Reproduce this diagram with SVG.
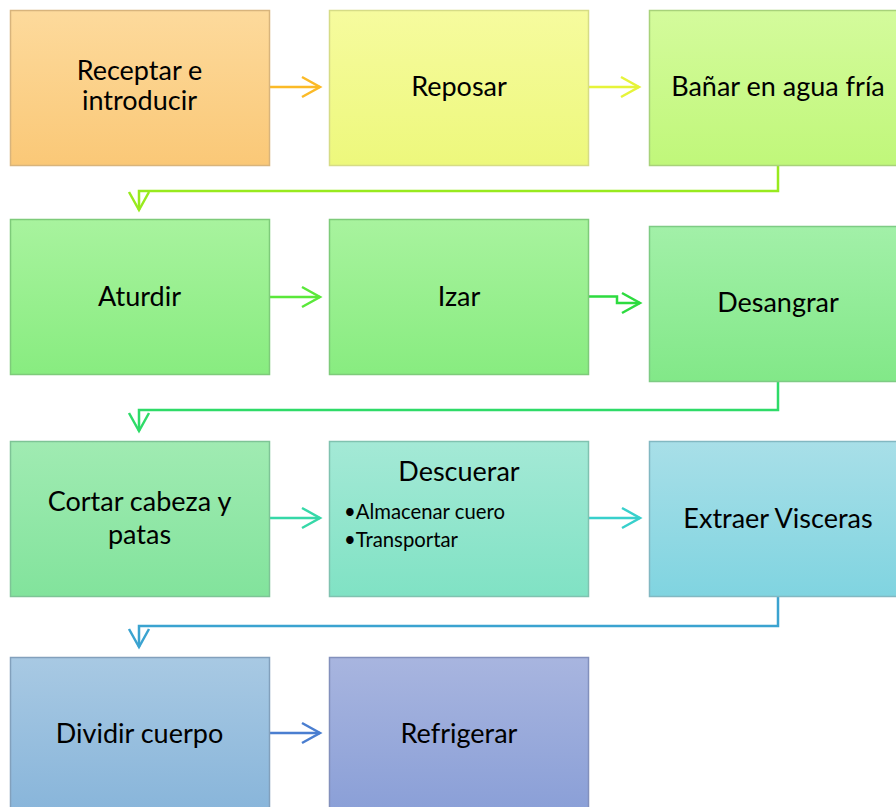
<svg xmlns="http://www.w3.org/2000/svg" width="896" height="807" viewBox="0 0 896 807">
<style>
.box{stroke-width:1.5}
.t{font-family:Lato,"Open Sans","Liberation Sans",sans-serif;font-size:27px;fill:#000;text-anchor:middle}
.b{font-family:Lato,"Open Sans","Liberation Sans",sans-serif;font-size:20.3px;fill:#000}
.c{fill:none;stroke-width:2.5;stroke-linejoin:miter}
</style>
<defs>
<linearGradient id="g1" x1="0" y1="0" x2="0" y2="1"><stop offset="0" stop-color="#FDDA9C"/><stop offset="1" stop-color="#FAC877"/></linearGradient>
<linearGradient id="g2" x1="0" y1="0" x2="0" y2="1"><stop offset="0" stop-color="#F6FB9E"/><stop offset="1" stop-color="#EDF87C"/></linearGradient>
<linearGradient id="g3" x1="0" y1="0" x2="0" y2="1"><stop offset="0" stop-color="#D4FB9C"/><stop offset="1" stop-color="#C0F77A"/></linearGradient>
<linearGradient id="g4" x1="0" y1="0" x2="0" y2="1"><stop offset="0" stop-color="#A8F39E"/><stop offset="1" stop-color="#88EC80"/></linearGradient>
<linearGradient id="g6" x1="0" y1="0" x2="0" y2="1"><stop offset="0" stop-color="#A2F0A8"/><stop offset="1" stop-color="#82E888"/></linearGradient>
<linearGradient id="g7" x1="0" y1="0" x2="0" y2="1"><stop offset="0" stop-color="#A0EBB2"/><stop offset="1" stop-color="#82E39C"/></linearGradient>
<linearGradient id="g8" x1="0" y1="0" x2="0" y2="1"><stop offset="0" stop-color="#A4E9D6"/><stop offset="1" stop-color="#80E2C4"/></linearGradient>
<linearGradient id="g9" x1="0" y1="0" x2="0" y2="1"><stop offset="0" stop-color="#A8DFE8"/><stop offset="1" stop-color="#80D4E0"/></linearGradient>
<linearGradient id="g10" x1="0" y1="0" x2="0" y2="1"><stop offset="0" stop-color="#A8C9E3"/><stop offset="1" stop-color="#88B5DA"/></linearGradient>
<linearGradient id="g11" x1="0" y1="0" x2="0" y2="1"><stop offset="0" stop-color="#A8B5DF"/><stop offset="1" stop-color="#8A9FD7"/></linearGradient>
<marker id="m1" markerUnits="userSpaceOnUse" markerWidth="30" markerHeight="30" refX="20" refY="11" orient="auto" overflow="visible"><path d="M2 1 L20 11 L2 21" fill="none" stroke="#FBBA27" stroke-width="2.5"/></marker>
<marker id="m2" markerUnits="userSpaceOnUse" markerWidth="30" markerHeight="30" refX="20" refY="11" orient="auto" overflow="visible"><path d="M2 1 L20 11 L2 21" fill="none" stroke="#E6F43A" stroke-width="2.5"/></marker>
<marker id="m3" markerUnits="userSpaceOnUse" markerWidth="30" markerHeight="30" refX="20" refY="11" orient="auto" overflow="visible"><path d="M2 1 L20 11 L2 21" fill="none" stroke="#98EA1E" stroke-width="2.5"/></marker>
<marker id="m4" markerUnits="userSpaceOnUse" markerWidth="30" markerHeight="30" refX="20" refY="11" orient="auto" overflow="visible"><path d="M2 1 L20 11 L2 21" fill="none" stroke="#5AE83A" stroke-width="2.5"/></marker>
<marker id="m5" markerUnits="userSpaceOnUse" markerWidth="30" markerHeight="30" refX="20" refY="11" orient="auto" overflow="visible"><path d="M2 1 L20 11 L2 21" fill="none" stroke="#2DDB3F" stroke-width="2.5"/></marker>
<marker id="m6" markerUnits="userSpaceOnUse" markerWidth="30" markerHeight="30" refX="20" refY="11" orient="auto" overflow="visible"><path d="M2 1 L20 11 L2 21" fill="none" stroke="#2EDB68" stroke-width="2.5"/></marker>
<marker id="m7" markerUnits="userSpaceOnUse" markerWidth="30" markerHeight="30" refX="20" refY="11" orient="auto" overflow="visible"><path d="M2 1 L20 11 L2 21" fill="none" stroke="#36D8A8" stroke-width="2.5"/></marker>
<marker id="m8" markerUnits="userSpaceOnUse" markerWidth="30" markerHeight="30" refX="20" refY="11" orient="auto" overflow="visible"><path d="M2 1 L20 11 L2 21" fill="none" stroke="#38D0CC" stroke-width="2.5"/></marker>
<marker id="m9" markerUnits="userSpaceOnUse" markerWidth="30" markerHeight="30" refX="20" refY="11" orient="auto" overflow="visible"><path d="M2 1 L20 11 L2 21" fill="none" stroke="#3BA3D0" stroke-width="2.5"/></marker>
<marker id="m10" markerUnits="userSpaceOnUse" markerWidth="30" markerHeight="30" refX="20" refY="11" orient="auto" overflow="visible"><path d="M2 1 L20 11 L2 21" fill="none" stroke="#4A7ED0" stroke-width="2.5"/></marker>
</defs>
<rect width="896" height="807" fill="#fff"/>

<g id="connectors">
<path class="c" stroke="#FBBA27" d="M269 87 H320" marker-end="url(#m1)"/>
<path class="c" stroke="#E6F43A" d="M589 87 H639" marker-end="url(#m2)"/>
<path class="c" stroke="#98EA1E" d="M778 165 V191 H139 V210" marker-end="url(#m3)"/>
<path class="c" stroke="#5AE83A" d="M269 297 H320" marker-end="url(#m4)"/>
<path class="c" stroke="#2DDB3F" d="M589 296.5 H617 V303 H640" marker-end="url(#m5)"/>
<path class="c" stroke="#2EDB68" d="M778 381 V410 H139 V431" marker-end="url(#m6)"/>
<path class="c" stroke="#36D8A8" d="M269 518 H320" marker-end="url(#m7)"/>
<path class="c" stroke="#38D0CC" d="M589 518 H640" marker-end="url(#m8)"/>
<path class="c" stroke="#3BA3D0" d="M778 596 V626 H139 V647" marker-end="url(#m9)"/>
<path class="c" stroke="#4A7ED0" d="M269 733 H320" marker-end="url(#m10)"/>
</g>

<g id="n1"><rect class="box" x="10.5" y="10.5" width="259" height="155" fill="url(#g1)" stroke="#D8B47C"/>
<text class="t" x="139.5" y="80">Receptar e</text><text class="t" x="139.5" y="110">introducir</text></g>
<g id="n2"><rect class="box" x="329.5" y="10.5" width="259" height="155" fill="url(#g2)" stroke="#D6DC86"/>
<text class="t" x="459" y="96">Reposar</text></g>
<g id="n3"><rect class="box" x="649.5" y="10.5" width="259" height="155" fill="url(#g3)" stroke="#A8D27A"/>
<text class="t" x="778" y="96">Bañar en agua fría</text></g>

<g id="n4"><rect class="box" x="10.5" y="219.5" width="259" height="155" fill="url(#g4)" stroke="#7ECB7A"/>
<text class="t" x="139.5" y="306">Aturdir</text></g>
<g id="n5"><rect class="box" x="329.5" y="219.5" width="259" height="155" fill="url(#g4)" stroke="#7ECB7A"/>
<text class="t" x="459" y="306">Izar</text></g>
<g id="n6"><rect class="box" x="649.5" y="226.5" width="259" height="155" fill="url(#g6)" stroke="#7ECB84"/>
<text class="t" x="778" y="312">Desangrar</text></g>

<g id="n7"><rect class="box" x="10.5" y="441.5" width="259" height="155" fill="url(#g7)" stroke="#7EC496"/>
<text class="t" x="139.5" y="511">Cortar cabeza y</text><text class="t" x="139.5" y="544">patas</text></g>
<g id="n8"><rect class="box" x="329.5" y="441.5" width="259" height="155" fill="url(#g8)" stroke="#80C2B0"/>
<text class="t" x="459" y="481">Descuerar</text>
<text class="b" x="344" y="519">•Almacenar cuero</text>
<text class="b" x="344" y="547">•Transportar</text></g>
<g id="n9"><rect class="box" x="649.5" y="441.5" width="259" height="155" fill="url(#g9)" stroke="#82B8C2"/>
<text class="t" x="778" y="528">Extraer Visceras</text></g>

<g id="n10"><rect class="box" x="10.5" y="657.5" width="259" height="155" fill="url(#g10)" stroke="#82A0BC"/>
<text class="t" x="139.5" y="743">Dividir cuerpo</text></g>
<g id="n11"><rect class="box" x="329.5" y="657.5" width="259" height="155" fill="url(#g11)" stroke="#8290BC"/>
<text class="t" x="459" y="743">Refrigerar</text></g>
</svg>
